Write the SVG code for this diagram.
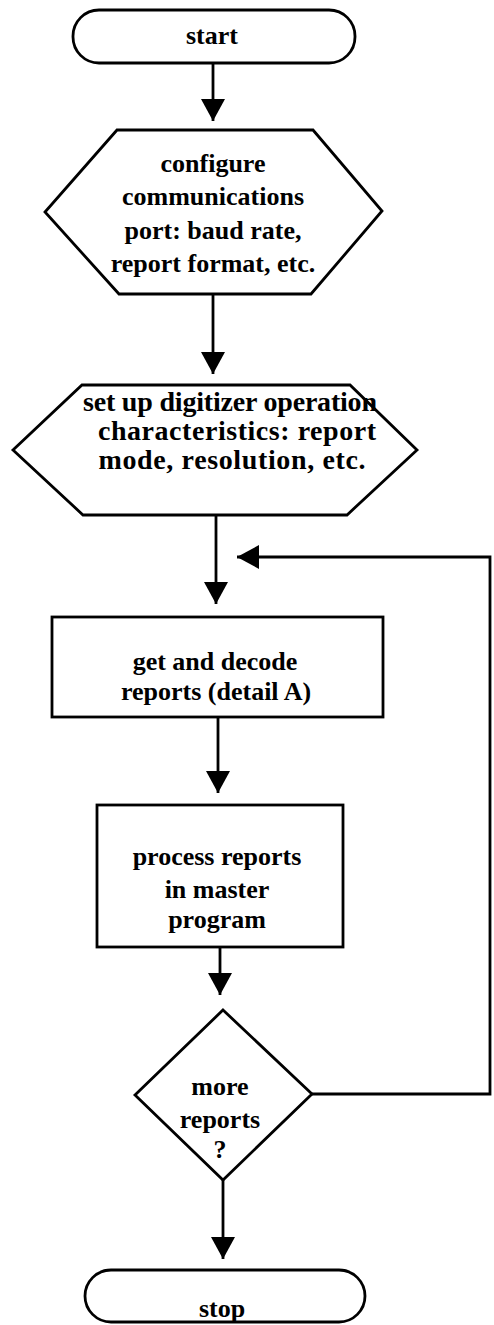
<svg xmlns="http://www.w3.org/2000/svg" width="494" height="1325" viewBox="0 0 494 1325">
<style>
.shape{fill:#fff;stroke:#000;stroke-width:2.8;stroke-linejoin:miter}
.lbl{font-family:"Liberation Serif","Times New Roman",serif;font-size:26px;font-weight:bold;fill:#000;text-anchor:middle}
.big{font-size:28px}
.conn{fill:none;stroke:#000;stroke-width:2.8}
</style>
<defs>
<marker id="ah" markerUnits="userSpaceOnUse" markerWidth="24" markerHeight="24" refX="22" refY="12" orient="auto">
<path d="M0,0 L22,12 L0,24 z" fill="#000"/>
</marker>
</defs>
<rect width="494" height="1325" fill="#fff"/>
<g id="connectors">
<line class="conn" x1="213" y1="63" x2="213" y2="121" marker-end="url(#ah)"/>
<line class="conn" x1="213" y1="294" x2="213" y2="374" marker-end="url(#ah)"/>
<line class="conn" x1="216" y1="515" x2="216" y2="604" marker-end="url(#ah)"/>
<line class="conn" x1="218" y1="717" x2="218" y2="793" marker-end="url(#ah)"/>
<line class="conn" x1="220" y1="947" x2="220" y2="995" marker-end="url(#ah)"/>
<line class="conn" x1="223" y1="1180" x2="223" y2="1259" marker-end="url(#ah)"/>
<path class="conn" d="M312,1094 L490,1094 L490,557 L237,557" marker-end="url(#ah)"/>
</g>
<g id="start">
<rect class="shape" x="73" y="10" width="282" height="53" rx="26" ry="26"/>
<text class="lbl" x="212" y="44">start</text>
</g>
<g id="configure">
<polygon class="shape" points="117,130 313,130 382,211 311,294 119,294 45,212"/>
<text class="lbl" x="213" y="172">configure</text>
<text class="lbl" x="213" y="205">communications</text>
<text class="lbl" x="213" y="239">port: baud rate,</text>
<text class="lbl" x="213" y="272">report format, etc.</text>
</g>
<g id="setup">
<polygon class="shape" points="82,385 350,385 417,450 347,515 83,515 13,450"/>
<text class="lbl big" x="230" y="411" textLength="294">set up digitizer operation</text>
<text class="lbl big" x="237" y="440" textLength="278">characteristics: report</text>
<text class="lbl big" x="232" y="469" textLength="267">mode, resolution, etc.</text>
</g>
<g id="decode">
<rect class="shape" x="52" y="617" width="331" height="100"/>
<text class="lbl" x="215" y="670">get and decode</text>
<text class="lbl" x="216" y="700">reports (detail A)</text>
</g>
<g id="process">
<rect class="shape" x="97" y="805" width="246" height="142"/>
<text class="lbl" x="217" y="865">process reports</text>
<text class="lbl" x="217" y="898">in master</text>
<text class="lbl" x="217" y="928">program</text>
</g>
<g id="decision">
<polygon class="shape" points="223,1010 312,1094 223,1180 135,1095"/>
<text class="lbl" x="220" y="1095">more</text>
<text class="lbl" x="220" y="1128">reports</text>
<text class="lbl" x="220" y="1158">?</text>
</g>
<g id="stop">
<rect class="shape" x="85" y="1270" width="280" height="52" rx="26" ry="26"/>
<text class="lbl" x="222" y="1317">stop</text>
</g>
</svg>
